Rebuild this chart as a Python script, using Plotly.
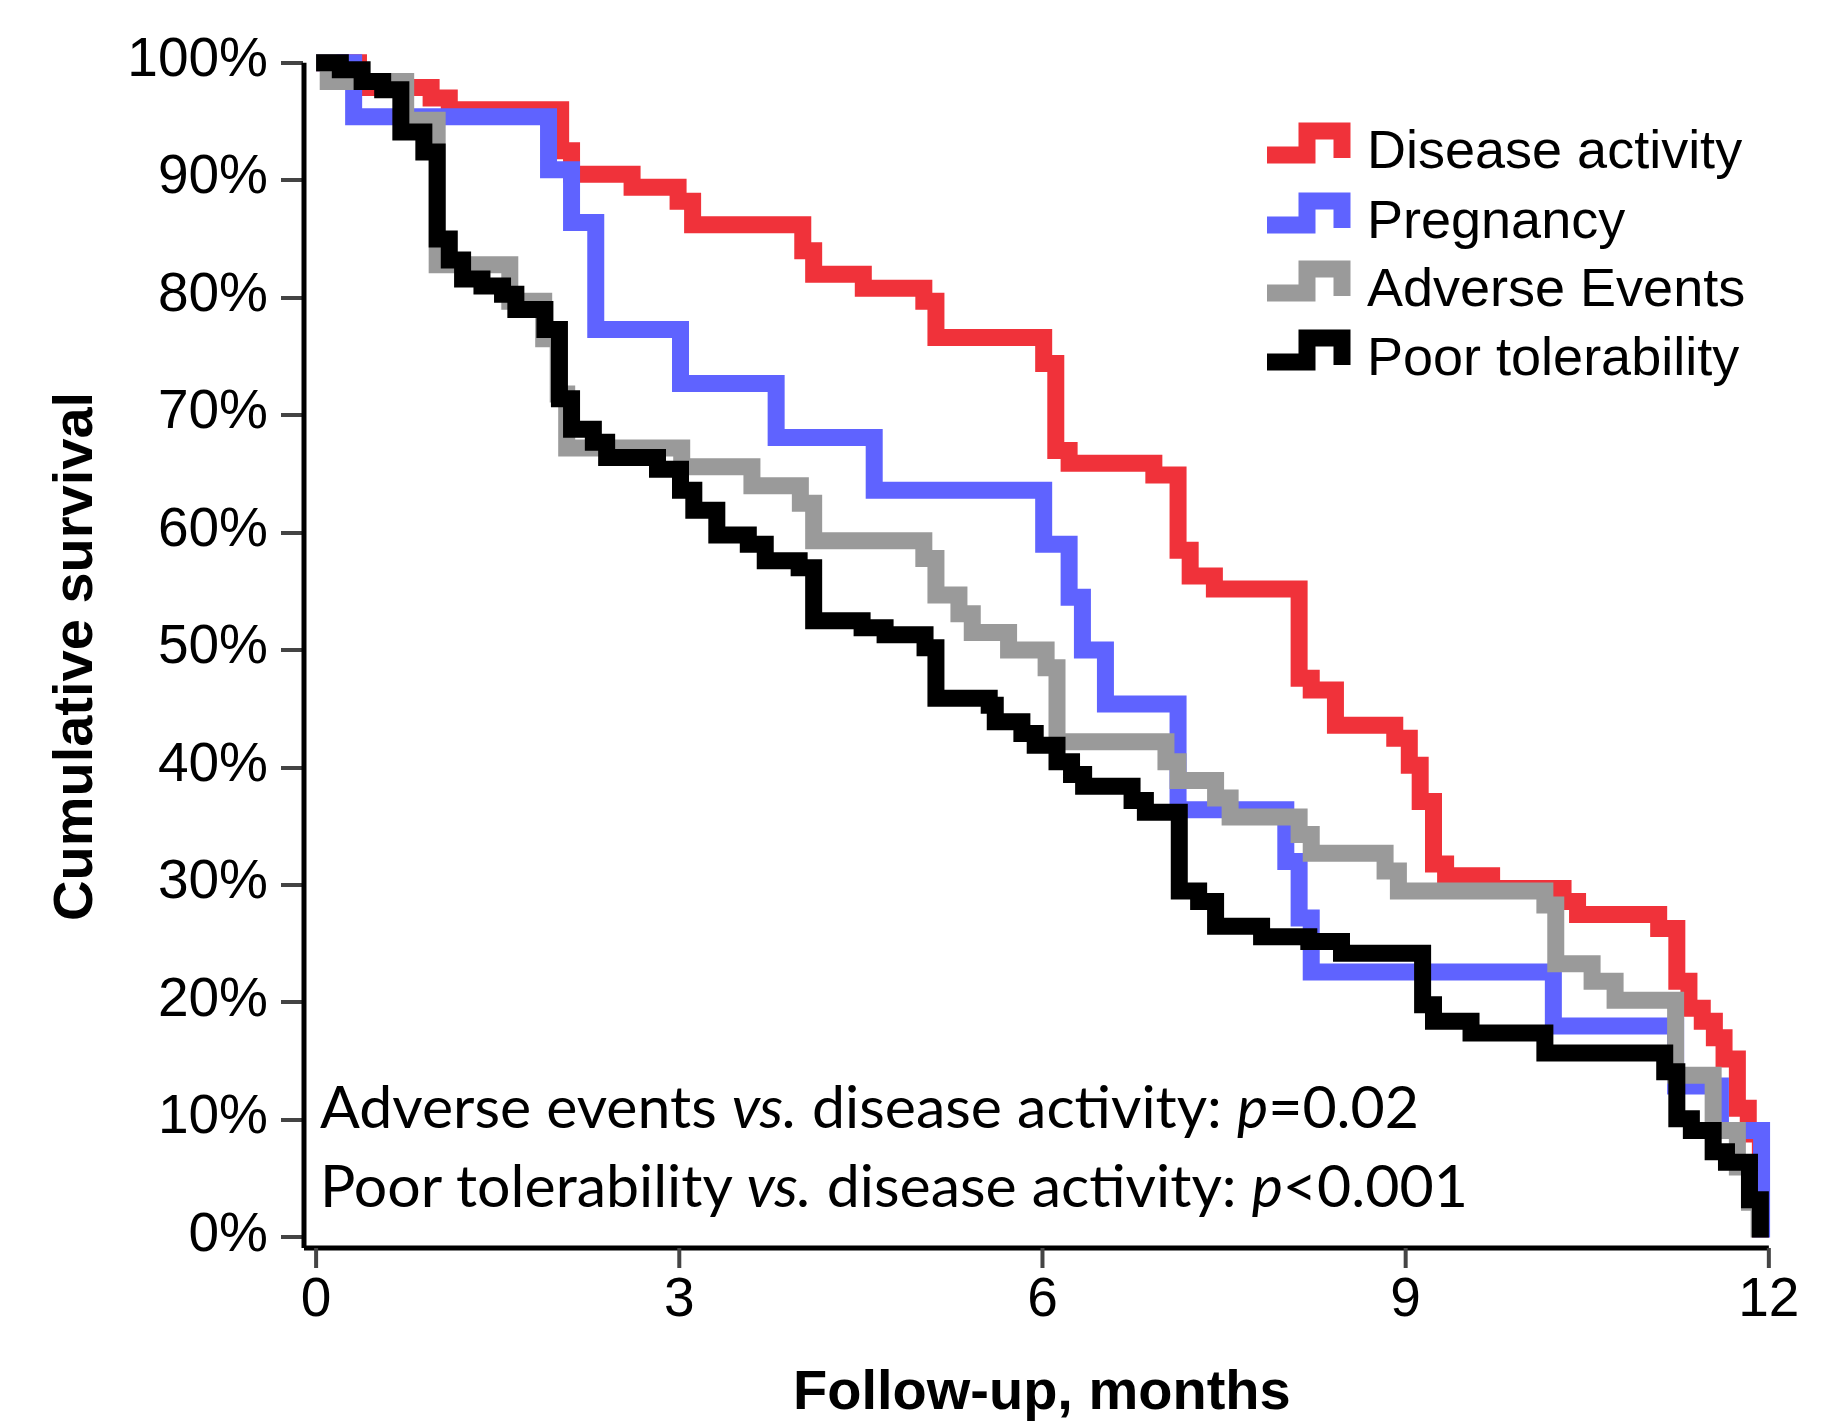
import plotly.graph_objects as go

# ---------------- data (months, cumulative survival %) ----------------
months_disease = [0, 0.35, 0.95, 1.10, 2.02, 2.11, 2.61, 2.99, 3.11, 4.02,
                  4.11, 4.52, 5.02, 5.12, 6.01, 6.11, 6.22, 6.92, 7.12, 7.22,
                  7.42, 8.12, 8.22, 8.42, 8.91, 9.03, 9.12, 9.23, 9.33, 9.71,
                  10.30, 10.42, 11.09, 11.24, 11.34, 11.45, 11.55, 11.63, 11.74, 11.83,
                  11.93]
surv_disease = [100, 97.9, 97.0, 96.0, 92.5, 90.5, 89.4, 88.2, 86.2, 84.0,
                82.0, 80.8, 79.7, 76.6, 74.4, 67.0, 65.9, 64.9, 58.5, 56.3,
                55.2, 47.6, 46.6, 43.6, 42.5, 40.2, 37.1, 31.8, 30.8, 29.7,
                28.6, 27.5, 26.3, 21.8, 19.5, 18.4, 17.0, 15.2, 11.0, 8.8,
                0]

months_pregnancy = [0, 0.31, 1.92, 2.11, 2.31, 3.01, 3.80, 4.61, 6.01, 6.22,
                    6.33, 6.52, 7.12, 8.01, 8.12, 8.22, 10.22, 11.23, 11.60, 11.94]
surv_pregnancy = [100, 95.4, 90.9, 86.4, 77.3, 72.7, 68.1, 63.6, 59.0, 54.5,
                  50.0, 45.4, 36.4, 32.0, 27.2, 22.6, 18.0, 12.9, 9.1, 0]

months_adverse = [0, 0.10, 0.74, 1.00, 1.60, 1.88, 2.00, 2.07, 3.02, 3.60,
                  4.00, 4.11, 5.02, 5.12, 5.31, 5.42, 5.72, 6.03, 6.12, 7.02,
                  7.12, 7.43, 7.55, 8.12, 8.22, 8.83, 8.94, 10.15, 10.24, 10.54,
                  10.73, 11.23, 11.54, 11.74, 11.84, 11.92]
surv_adverse = [100, 98.4, 95.1, 82.8, 79.7, 76.5, 71.8, 67.2, 65.6, 64.0,
                62.5, 59.3, 57.8, 54.7, 53.1, 51.5, 50.0, 48.5, 42.2, 40.5,
                38.9, 37.4, 35.8, 34.3, 32.7, 31.2, 29.5, 28.3, 23.3, 21.8,
                20.2, 13.8, 9.1, 6.0, 3.0, 0]

months_poor = [0, 0.20, 0.38, 0.55, 0.70, 0.89, 1.00, 1.10, 1.21, 1.37,
               1.54, 1.65, 1.89, 2.01, 2.11, 2.29, 2.40, 2.82, 3.01, 3.12,
               3.31, 3.57, 3.71, 3.99, 4.11, 4.51, 4.70, 5.03, 5.12, 5.56,
               5.61, 5.83, 5.94, 6.12, 6.24, 6.34, 6.74, 6.85, 7.13, 7.29,
               7.43, 7.81, 8.20, 8.47, 9.14, 9.23, 9.54, 10.15, 11.14, 11.24,
               11.36, 11.54, 11.65, 11.84, 11.93]
surv_poor = [100, 99.4, 98.4, 97.7, 94.1, 92.4, 85.0, 83.2, 81.6, 81.0,
             80.3, 79.0, 77.3, 71.4, 68.8, 67.7, 66.4, 65.4, 63.6, 61.9,
             59.8, 59.0, 57.6, 57.0, 52.5, 51.9, 51.3, 50.2, 45.9, 45.3,
             43.9, 42.9, 41.9, 40.5, 39.4, 38.4, 37.2, 36.2, 29.5, 28.6,
             26.5, 25.6, 25.2, 24.2, 19.8, 18.4, 17.4, 15.7, 14.1, 10.1,
             9.1, 7.3, 6.4, 3.2, 0]

series_names = ["Disease activity", "Pregnancy", "Adverse Events", "Poor tolerability"]
series_colors = ["#F0323A", "#5F63FF", "#9A9A9A", "#000000"]
series_months = [months_disease, months_pregnancy, months_adverse, months_poor]
series_surv = [surv_disease, surv_pregnancy, surv_adverse, surv_poor]

x_tick_vals = [0, 3, 6, 9, 12]
x_tick_text = ["0", "3", "6", "9", "12"]
y_tick_vals = [0, 10, 20, 30, 40, 50, 60, 70, 80, 90, 100]
y_tick_text = ["0%", "10%", "20%", "30%", "40%", "50%", "60%", "70%", "80%", "90%", "100%"]

p_lines = ["Adverse events <i>vs.</i> disease activity: <i>p</i>=0.02",
           "Poor tolerability <i>vs.</i> disease activity: <i>p</i><0.001"]

# ---------------- layout geometry (pixels) ----------------
W, H = 1839, 1423
ML, MR, MT, MB = 296, 60, 43, 183
PW = W - ML - MR
PH = H - MT - MB
X_RANGE = [-0.1, 12.15]
Y_RANGE = [-0.9, 101.0]

def px_to_paper_x(px):
    return (px - ML) / PW

def px_to_paper_y(py):
    return (H - MB - py) / PH

def xval_to_paper(v):
    return (v - X_RANGE[0]) / (X_RANGE[1] - X_RANGE[0])

AX_FONT = "Liberation Sans, Arial, Helvetica, sans-serif"

fig = go.Figure()
for name, t, s, c in zip(series_names, series_months, series_surv, series_colors):
    fig.add_trace(go.Scatter(
        x=t, y=s, mode="lines", name=name, showlegend=False,
        line=dict(shape="hv", color=c, width=17),
        hoverinfo="skip",
    ))

shapes = []
# axis lines
shapes.append(dict(type="line", xref="paper", yref="paper",
                   x0=0, x1=xval_to_paper(12), y0=0, y1=0,
                   line=dict(color="black", width=5)))
shapes.append(dict(type="line", xref="paper", yref="y", x0=0, x1=0, y0=Y_RANGE[0], y1=100,
                   line=dict(color="black", width=5)))
# x tick marks
for v in x_tick_vals:
    xp = xval_to_paper(v)
    shapes.append(dict(type="line", xref="paper", yref="paper", x0=xp, x1=xp,
                       y0=0, y1=-20 / PH, line=dict(color="#444", width=4)))

# custom legend with step-shaped icons
legend_rows_y = [141, 211, 279, 348]
annotations = []
for name, c, yc in zip(series_names, series_colors, legend_rows_y):
    xs = [1259, 1299, 1299, 1334, 1334]
    ys = [yc + 6, yc + 6, yc - 18, yc - 18, yc + 9]
    pts = [(px_to_paper_x(a), px_to_paper_y(b)) for a, b in zip(xs, ys)]
    path = "M " + " L ".join(f"{a:.5f},{b:.5f}" for a, b in pts)
    shapes.append(dict(type="path", xref="paper", yref="paper", path=path,
                       line=dict(color=c, width=17)))
    annotations.append(dict(xref="paper", yref="paper", x=px_to_paper_x(1357),
                            y=px_to_paper_y(yc), xanchor="left", yanchor="middle",
                            text=name, showarrow=False,
                            font=dict(family=AX_FONT, size=54, color="black")))

# p-value text
for line, yc in zip(p_lines, [1097, 1176]):
    annotations.append(dict(xref="paper", yref="paper", x=px_to_paper_x(310),
                            y=px_to_paper_y(yc), xanchor="left", yanchor="middle",
                            text=line, showarrow=False,
                            font=dict(family="Lato, sans-serif", size=59, color="black")))

# axis titles
annotations.append(dict(xref="paper", yref="paper", x=px_to_paper_x(1034), y=px_to_paper_y(1381),
                        xanchor="center", yanchor="middle", text="<b>Follow-up, months</b>",
                        showarrow=False, borderpad=0,
                        font=dict(family=AX_FONT, size=56, color="black")))
annotations.append(dict(xref="paper", yref="paper", x=px_to_paper_x(64), y=px_to_paper_y(649),
                        xanchor="center", yanchor="middle", text="<b>Cumulative survival</b>",
                        textangle=-90, showarrow=False, borderpad=0,
                        font=dict(family=AX_FONT, size=56, color="black")))

fig.update_layout(
    width=W, height=H,
    margin=dict(l=ML, r=MR, t=MT, b=MB, pad=0),
    paper_bgcolor="white", plot_bgcolor="white",
    shapes=shapes, annotations=annotations,
    showlegend=False,
    xaxis=dict(range=X_RANGE, showgrid=False, zeroline=False, showline=False,
               tickmode="array", tickvals=x_tick_vals, ticktext=x_tick_text,
               ticks="", ticklabelstandoff=12,
               tickfont=dict(family=AX_FONT, size=55, color="black")),
    yaxis=dict(range=Y_RANGE, showgrid=False, zeroline=False, showline=False,
               tickmode="array", tickvals=y_tick_vals, ticktext=y_tick_text,
               ticks="outside", ticklen=22, tickwidth=4, tickcolor="#444",
               ticklabelstandoff=2, ticklabelshift=-6,
               tickfont=dict(family=AX_FONT, size=55, color="black")),
)

fig.write_html("out.html")
